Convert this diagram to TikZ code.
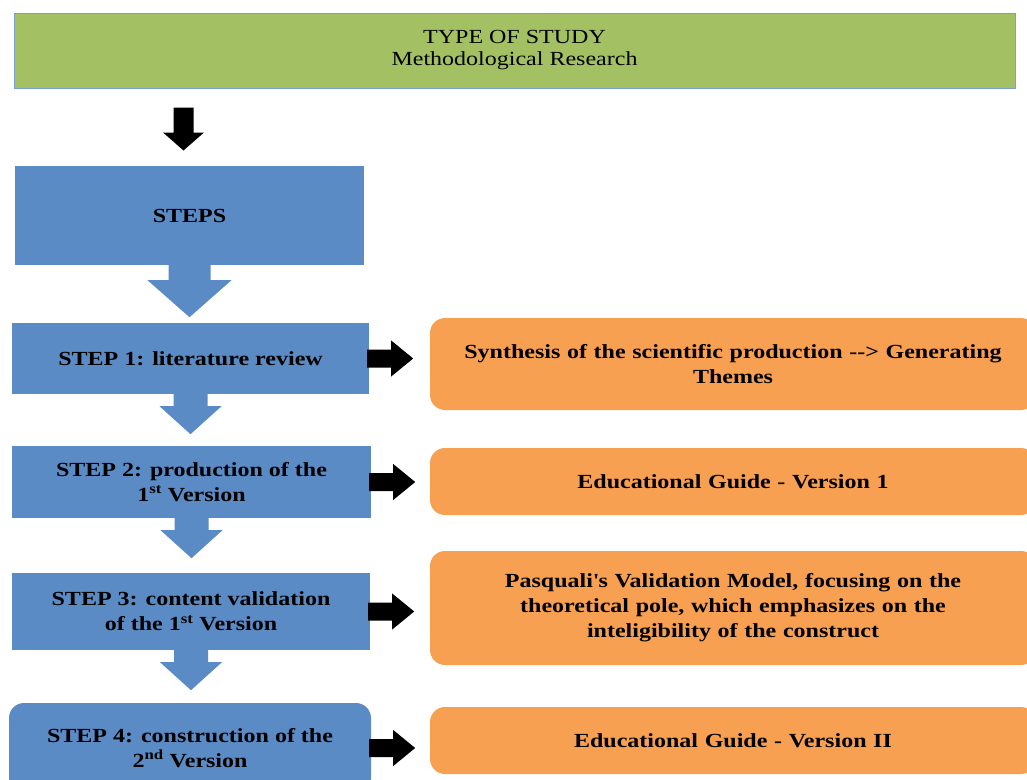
\documentclass[tikz,border=0pt]{standalone}
\usepackage{fontspec}
\setmainfont{Liberation Serif}[FakeStretch=1.2]
\usepackage{tikz}
\usetikzlibrary{positioning,calc}
\definecolor{studygreen}{HTML}{A3C163}
\definecolor{frameblue}{HTML}{7B9FD3}
\definecolor{stepblue}{HTML}{5B8BC5}
\definecolor{outorange}{HTML}{F8A052}

\begin{document}
\begin{tikzpicture}[x=1pt,y=-1pt,
    greenbox/.style={fill=studygreen,draw=frameblue,line width=1pt,inner sep=0pt,
        align=center,font=\fontsize{20}{22}\selectfont},
    stepbox/.style={fill=stepblue,inner sep=0pt,align=center,
        font=\fontsize{20}{25}\selectfont\bfseries},
    outbox/.style={fill=outorange,rounded corners=15,inner sep=0pt,align=center,
        minimum width=606,text width=590,font=\fontsize{20}{25}\selectfont\bfseries}]
    \useasboundingbox (0,0) rectangle (1027,779);
    \clip (0,0) rectangle (1027,779);

    % header
    \node[greenbox,minimum width=1001,minimum height=75] (study) at (514.5,50.5)
        {TYPE OF STUDY\\Methodological Research};

    % steps column
    \node[stepbox,minimum width=349,minimum height=99] (steps) at (189.5,215.5) {STEPS};
    \node[stepbox,minimum width=357,minimum height=71] (s1) at (190.5,358.5)
        {STEP 1: literature review};
    \node[stepbox,minimum width=359,minimum height=72] (s2) at (191.5,482)
        {STEP 2: production of the\\1\textsuperscript{st} Version};
    \node[stepbox,minimum width=358,minimum height=77] (s3) at (191,611.5)
        {STEP 3: content validation\\of the 1\textsuperscript{st} Version};
    \node[stepbox,rounded corners=15,minimum width=362,minimum height=90] (s4) at (190,748)
        {STEP 4: construction of the\\2\textsuperscript{nd} Version};

    % results column
    \node[outbox,minimum height=92] (o1) at (733,364)
        {Synthesis of the scientific production -{}-{}> Generating\\Themes};
    \node[outbox,minimum height=67] (o2) at (733,481.5) {Educational Guide - Version 1};
    \node[outbox,minimum height=114] (o3) at (733,608)
        {Pasquali\textquotesingle s Validation Model, focusing on the\\theoretical pole, which emphasizes on the\\inteligibility of the construct};
    \node[outbox,minimum height=67] (o4) at (733,740.5) {Educational Guide - Version II};

    % black arrow under the header
    \coordinate (top) at ($(study.south -| steps.north)+(-6,19)$);
    \fill[black] (top) ++(-10,0) -- ++(0,25) -- ++(-10.5,0) -- ++(20.5,18)
        -- ++(20.5,-18) -- ++(-10.5,0) -- ++(0,-25) -- cycle;

    % blue arrows between the steps
    \fill[stepblue] (steps.south) ++(-21,0) -- ++(0,15) -- ++(-21,0) -- ++(42,37)
        -- ++(42,-37) -- ++(-21,0) -- ++(0,-15) -- cycle;
    \foreach \a in {s1,s2,s3} {
        \fill[stepblue] (\a.south) ++(-17,0) -- ++(0,12) -- ++(-14,0) -- ++(31,28)
            -- ++(31,-28) -- ++(-14,0) -- ++(0,-12) -- cycle;
    }

    % black arrows to the results
    \foreach \a in {s1,s2,s3,s4} {
        \fill[black] (\a.east) ++(-2,-9) -- ++(24,0) -- ++(0,-9) -- ++(22,18)
            -- ++(-22,18) -- ++(0,-9) -- ++(-24,0) -- cycle;
    }
\end{tikzpicture}
\end{document}
